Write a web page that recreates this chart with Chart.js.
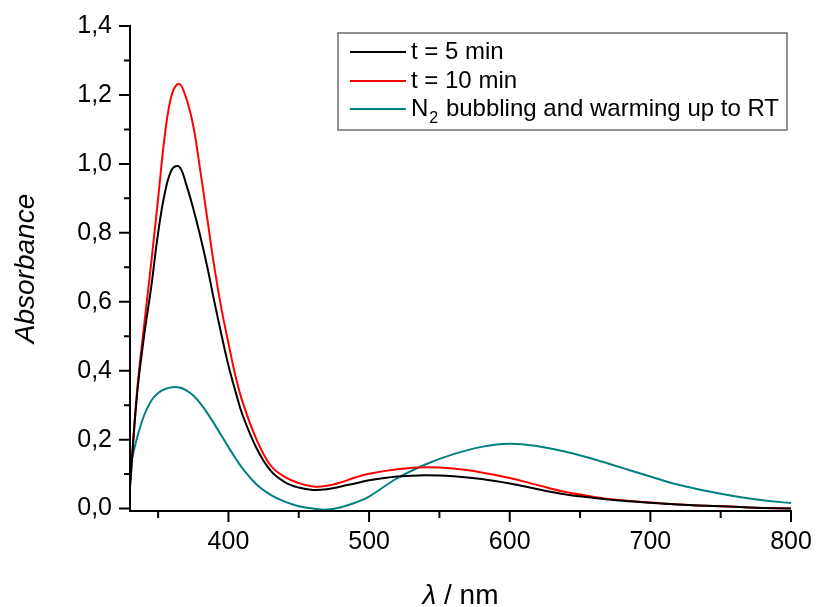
<!DOCTYPE html>
<html>
<head>
<meta charset="utf-8">
<script src="https://cdn.jsdelivr.net/npm/chart.js@4/dist/chart.umd.min.js"></script>
<style>
  html, body { margin: 0; padding: 0; background: #fff; }
  canvas { display: block; }
</style>
</head>
<body>
<canvas id="absChart" width="818" height="607"></canvas>
<script>
// wavelength (nm)
const wavelengths = [330, 335, 340, 345, 350, 355, 360, 365, 370, 375, 380, 385, 390, 395, 400,
  405, 410, 420, 430, 440, 450, 460, 470, 480, 490, 500, 520, 540, 560, 580, 600,
  620, 640, 660, 680, 700, 720, 740, 760, 780, 800];

const abs5min = [0.06, 0.33, 0.50, 0.64, 0.80, 0.92, 0.985, 0.992, 0.94, 0.87, 0.79, 0.70, 0.60, 0.505, 0.415,
  0.34, 0.272, 0.175, 0.11, 0.077, 0.061, 0.054, 0.056, 0.064, 0.073, 0.082, 0.093, 0.097, 0.094, 0.086, 0.073,
  0.056, 0.041, 0.031, 0.023, 0.017, 0.012, 0.008, 0.005, 0.002, 0.0];

const abs10min = [0.07, 0.34, 0.53, 0.71, 0.90, 1.09, 1.205, 1.232, 1.19, 1.11, 0.98, 0.84, 0.70, 0.58, 0.48,
  0.385, 0.31, 0.20, 0.125, 0.092, 0.074, 0.064, 0.066, 0.076, 0.09, 0.101, 0.114, 0.12, 0.116, 0.105, 0.089,
  0.068, 0.048, 0.034, 0.024, 0.018, 0.012, 0.008, 0.005, 0.002, 0.0];

const absN2 = [0.12, 0.205, 0.27, 0.312, 0.335, 0.347, 0.352, 0.351, 0.343, 0.328, 0.305, 0.277, 0.245, 0.212, 0.178,
  0.146, 0.117, 0.07, 0.04, 0.02, 0.007, 0.0, -0.003, 0.004, 0.017, 0.035, 0.088, 0.128, 0.158, 0.179, 0.188,
  0.181, 0.165, 0.143, 0.118, 0.093, 0.069, 0.051, 0.036, 0.024, 0.016];

const seriesLabels = ['t = 5 min', 't = 10 min', 'N_2 bubbling and warming up to RT'];
const seriesColors = ['#000000', '#ff0000', '#008080'];

const xTicks = [400, 500, 600, 700, 800];
const xMinorTicks = [350, 450, 550, 650, 750];
const yTicks = [0, 0.2, 0.4, 0.6, 0.8, 1.0, 1.2, 1.4];
const yMinorTicks = [0.1, 0.3, 0.5, 0.7, 0.9, 1.1, 1.3];

const FONT = '"Liberation Sans", Arial, sans-serif';

function pts(values) {
  return wavelengths.map((w, i) => ({ x: w, y: values[i] }));
}

// axis lines, tick marks, titles and the boxed legend
const decorPlugin = {
  id: 'decor',
  afterDatasetsDraw(chart) {
    const ctx = chart.ctx;
    const a = chart.chartArea;
    const xs = chart.scales.x, ys = chart.scales.y;
    ctx.save();
    ctx.strokeStyle = '#000';
    ctx.lineWidth = 2;
    ctx.beginPath();
    ctx.moveTo(a.left, a.top - 1);
    ctx.lineTo(a.left, a.bottom);
    ctx.lineTo(a.right + 1, a.bottom);
    xTicks.forEach(v => { const p = xs.getPixelForValue(v); ctx.moveTo(p, a.bottom); ctx.lineTo(p, a.bottom + 11); });
    xMinorTicks.forEach(v => { const p = xs.getPixelForValue(v); ctx.moveTo(p, a.bottom); ctx.lineTo(p, a.bottom + 7); });
    yTicks.forEach(v => { const p = ys.getPixelForValue(v); ctx.moveTo(a.left, p); ctx.lineTo(a.left - 11, p); });
    yMinorTicks.forEach(v => { const p = ys.getPixelForValue(v); ctx.moveTo(a.left, p); ctx.lineTo(a.left - 6, p); });
    ctx.stroke();

    // axis titles
    ctx.fillStyle = '#000';
    ctx.textBaseline = 'alphabetic';
    ctx.save();
    ctx.translate(34, (a.top + a.bottom) / 2);
    ctx.rotate(-Math.PI / 2);
    ctx.textAlign = 'center';
    ctx.font = 'italic 28px ' + FONT;
    ctx.fillText('Absorbance', 0, 0);
    ctx.restore();

    ctx.textAlign = 'left';
    const lam = 'λ';
    const rest = ' / nm';
    ctx.font = '28px ' + FONT;
    const wRest = ctx.measureText(rest).width;
    ctx.font = 'italic 28px ' + FONT;
    const wLam = ctx.measureText(lam).width;
    const tx = (a.left + a.right) / 2 - (wLam + wRest) / 2;
    ctx.fillText(lam, tx, 604);
    ctx.font = '28px ' + FONT;
    ctx.fillText(rest, tx + wLam, 604);

    // legend
    const box = { l: 338, t: 33, r: 787, b: 130 };
    ctx.lineWidth = 1.3;
    ctx.strokeStyle = '#555';
    ctx.strokeRect(box.l, box.t, box.r - box.l, box.b - box.t);
    const rowY = [52, 81, 109];
    chart.data.datasets.forEach((ds, i) => {
      const y = rowY[i];
      ctx.strokeStyle = ds.borderColor;
      ctx.lineWidth = 2;
      ctx.beginPath();
      ctx.moveTo(350, y);
      ctx.lineTo(406, y);
      ctx.stroke();
      ctx.fillStyle = '#000';
      ctx.textBaseline = 'middle';
      let x = 411;
      const parts = ds.label.split('_');
      ctx.font = '24px ' + FONT;
      ctx.fillText(parts[0], x, y);
      x += ctx.measureText(parts[0]).width;
      if (parts.length > 1) {
        const sub = parts[1].charAt(0);
        ctx.font = '16px ' + FONT;
        ctx.fillText(sub, x + 1, y + 10);
        x += ctx.measureText(sub).width + 2;
        ctx.font = '24px ' + FONT;
        ctx.fillText(parts[1].slice(1), x, y);
      }
    });
    ctx.restore();
  }
};

const ctx = document.getElementById('absChart').getContext('2d');
new Chart(ctx, {
  type: 'line',
  data: {
    datasets: [abs5min, abs10min, absN2].map((vals, i) => ({
      label: seriesLabels[i],
      data: pts(vals),
      borderColor: seriesColors[i],
      borderWidth: 2,
      pointRadius: 0,
      fill: false,
      tension: 0.4
    }))
  },
  options: {
    responsive: false,
    animation: false,
    layout: { padding: { top: 26, right: 27, left: 0, bottom: 0 } },
    plugins: {
      legend: { display: false },
      tooltip: { enabled: false }
    },
    scales: {
      x: {
        type: 'linear',
        min: 330,
        max: 800,
        grid: { display: false, drawTicks: false },
        border: { display: false },
        afterFit: s => { s.height = 96; s.paddingLeft = 0; s.paddingRight = 0; },
        afterBuildTicks: s => { s.ticks = xTicks.map(v => ({ value: v })); },
        ticks: {
          color: '#000',
          padding: 16,
          maxRotation: 0,
          font: { family: FONT, size: 25 },
          callback: v => String(v)
        }
      },
      y: {
        type: 'linear',
        min: -0.007,
        max: 1.4,
        grid: { display: false, drawTicks: false },
        border: { display: false },
        afterFit: s => { s.width = 130; s.paddingTop = 0; s.paddingBottom = 0; },
        afterBuildTicks: s => { s.ticks = yTicks.map(v => ({ value: v })); },
        ticks: {
          color: '#000',
          padding: 18,
          font: { family: FONT, size: 25 },
          callback: v => v.toFixed(1).replace('.', ',')
        }
      }
    }
  },
  plugins: [decorPlugin]
});
</script>
</body>
</html>
